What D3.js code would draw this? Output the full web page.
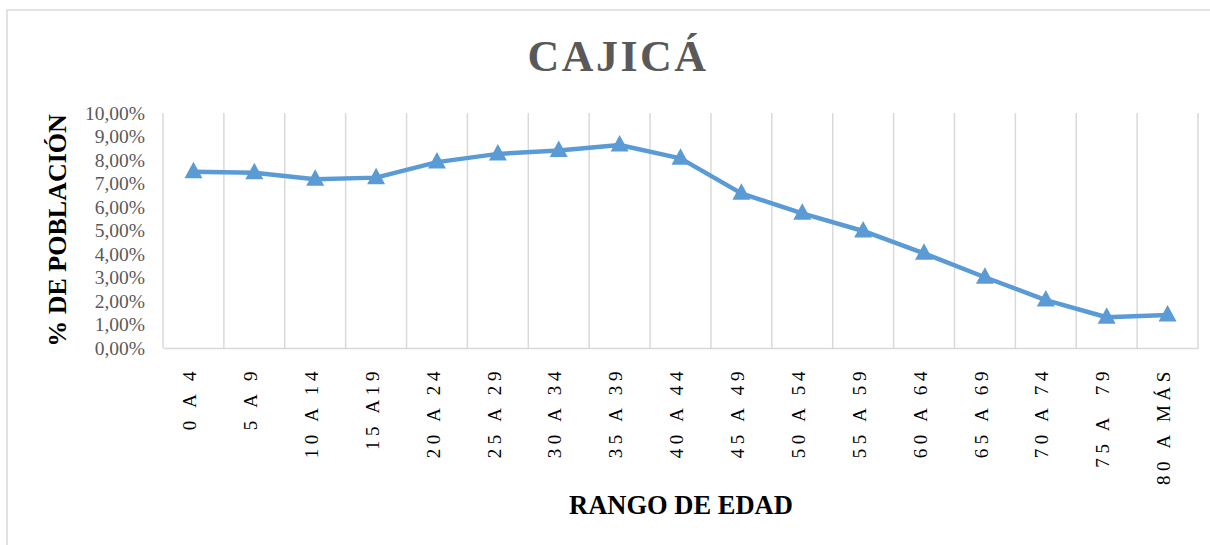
<!DOCTYPE html>
<html>
<head>
<meta charset="utf-8">
<script src="https://cdn.jsdelivr.net/npm/d3@7"></script>
<style>
  body { margin: 0; background: #fff; }
  svg { display: block; }
</style>
</head>
<body>
<div id="chart"></div>
<script>
const ranges = ["0 A 4", "5 A 9", "10 A 14", "15 A19", "20 A 24", "25 A 29", "30 A 34", "35 A 39",
  "40 A 44", "45 A 49", "50 A 54", "55 A 59", "60 A 64", "65 A 69", "70 A 74", "75 A  79", "80 A MÁS"];
const poblacion = [7.50, 7.46, 7.18, 7.25, 7.91, 8.26, 8.40, 8.64, 8.07, 6.58, 5.73, 4.98, 4.03, 3.01, 2.04, 1.31, 1.40];
const yTicks = [0, 1, 2, 3, 4, 5, 6, 7, 8, 9, 10];

const W = 1210, H = 545;
const plotLeft = 163, plotRight = 1198, plotTop = 113, plotBottom = 348;
const serif = "'Liberation Serif', 'Times New Roman', serif";

const svg = d3.select("#chart").append("svg").attr("width", W).attr("height", H);

// chart frame
svg.append("rect").attr("x", 7).attr("y", 10).attr("width", W + 20).attr("height", H + 20)
  .attr("fill", "none").attr("stroke", "#d9d9d9").attr("stroke-width", 1.5);

const x = d3.scaleBand().domain(ranges).range([plotLeft, plotRight]);
const y = d3.scaleLinear().domain([0, 10]).range([plotBottom, plotTop]);

// vertical gridlines at category boundaries
const bounds = ranges.map(d => x(d)).concat([plotRight]);
svg.append("g").selectAll("line").data(bounds).join("line")
  .attr("x1", d => d).attr("x2", d => d)
  .attr("y1", plotTop).attr("y2", plotBottom)
  .attr("stroke", "#d9d9d9").attr("stroke-width", 1.5);

// x axis
const xAxis = svg.append("g").attr("transform", `translate(0,${plotBottom})`)
  .call(d3.axisBottom(x).tickSize(0).tickPadding(0));
xAxis.select(".domain").attr("stroke", "#d9d9d9").attr("stroke-width", 1.5);
xAxis.selectAll("text")
  .attr("transform", "translate(-4,19) rotate(-90)")
  .attr("text-anchor", "end")
  .attr("x", 0).attr("y", 0).attr("dy", "0.35em")
  .style("font-family", serif).style("font-size", "19px")
  .style("letter-spacing", "4.6px").style("white-space", "pre")
  .attr("fill", "#000");

// y axis
const yAxis = svg.append("g").attr("transform", `translate(${plotLeft},0)`)
  .call(d3.axisLeft(y).tickValues(yTicks).tickSize(0).tickPadding(18)
    .tickFormat(d => d3.format(".2f")(d).replace(".", ",") + "%"));
yAxis.select(".domain").remove();
yAxis.selectAll("text")
  .style("font-family", serif).style("font-size", "19.5px").attr("fill", "#595959");

// line
const line = d3.line().x((d, i) => x(ranges[i]) + x.bandwidth() / 2).y(d => y(d));
svg.append("path").datum(poblacion).attr("d", line)
  .attr("fill", "none").attr("stroke", "#5b9bd5").attr("stroke-width", 4.5)
  .attr("stroke-linejoin", "round");

// triangle markers
svg.append("g").selectAll("path").data(poblacion).join("path")
  .attr("transform", (d, i) => `translate(${x(ranges[i]) + x.bandwidth() / 2},${y(d)})`)
  .attr("d", "M0,-10L9,6.5L-9,6.5Z")
  .attr("fill", "#5b9bd5");

// titles
svg.append("text").attr("x", 618).attr("y", 71).attr("text-anchor", "middle")
  .style("font-family", serif).style("font-size", "44px").style("font-weight", "bold")
  .style("letter-spacing", "2.5px").attr("fill", "#595959").text("CAJICÁ");

svg.append("text").attr("x", 681).attr("y", 514).attr("text-anchor", "middle")
  .style("font-family", serif).style("font-size", "26.5px").style("font-weight", "bold")
  .attr("fill", "#000").text("RANGO DE EDAD");

svg.append("text").attr("transform", `translate(66,${(plotTop + plotBottom) / 2}) rotate(-90)`)
  .attr("text-anchor", "middle")
  .style("font-family", serif).style("font-size", "26px").style("font-weight", "bold")
  .attr("fill", "#000").text("% DE POBLACIÓN");
</script>
</body>
</html>
